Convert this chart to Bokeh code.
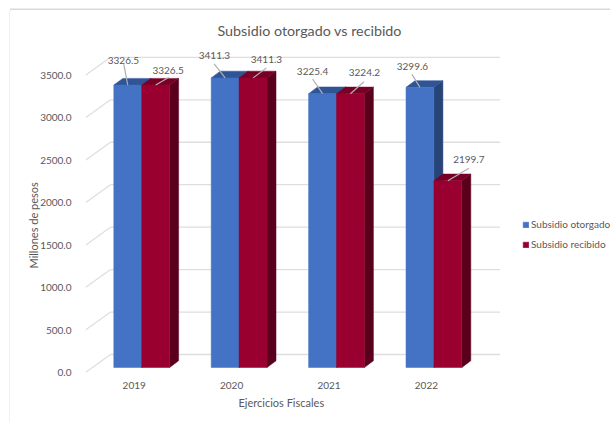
from bokeh.embed import file_html
from bokeh.resources import INLINE
from bokeh.plotting import figure
from bokeh.models import (FixedTicker, Legend, LegendItem, NumeralTickFormatter,
                          Range1d, Title)

years = ["2019", "2020", "2021", "2022"]
otorgado = [3326.5, 3411.3, 3225.4, 3299.6]
recibido = [3326.5, 3411.3, 3224.2, 2199.7]
y_ticks = [0, 500, 1000, 1500, 2000, 2500, 3000, 3500]

# label and leader placement relative to the top of each bar's front face, in pixels
lab_o = [(-4.3, 25), (-10.7, 22), (-10, 22), (-7.5, 20.6)]
lab_r = [(12.5, 14.5), (13.4, 18), (14, 21), (21, 21.5)]
lead_o = [(-4, 21), (-11, 14), (-10, 14.7), (-8, 13)]
lead_r = [(13, 7.5), (13.4, 10), (13.5, 12), (21, 12.5)]

PX_X = 97.4      # pixels per category
PX_Y = 0.0849    # pixels per unit of value
BAR_W = 27.9 / PX_X
GROUP_OFF = 28.3 / PX_X
BASE = 5 / PX_Y
DX, DY = 9 / PX_X, 6.7 / PX_Y
WALL_DX, WALL_DY = 25 / PX_X, 18 / PX_Y
TEXT = "#595959"
GRID = "#dedede"
FONT = "Lato"

p = figure(width=600, height=412, output_backend="svg", toolbar_location=None,
           x_range=Range1d(0, 420 / PX_X), y_range=Range1d(0, 327 / PX_Y),
           frame_width=420, frame_height=327,
           min_border_left=75, min_border_top=35, min_border_bottom=50, min_border_right=105)
p.margin = (10, 0, 0, 10)
p.styles = {"box-shadow": "0 -1.5px 0 #d9d9d9, -1px 0 0 #f0f0f0"}
p.outline_line_color = None
p.xgrid.visible = False
p.ygrid.visible = False

# wall gridlines and slanted tick connectors
n = len(years)
p.segment(x0=[WALL_DX] * len(y_ticks), x1=[n + WALL_DX] * len(y_ticks),
          y0=[t + WALL_DY for t in y_ticks], y1=[t + WALL_DY for t in y_ticks],
          line_color=GRID, line_width=1.3)
p.segment(x0=[0] * len(y_ticks), x1=[WALL_DX] * len(y_ticks),
          y0=y_ticks, y1=[t + WALL_DY for t in y_ticks], line_color=GRID, line_width=1.2)

def bars(values, start, front, top, side):
    lefts = [i + start for i in range(len(values))]
    rights = [l + BAR_W for l in lefts]
    tops = [v + BASE for v in values]
    p.patches(xs=[[r, r + DX, r + DX, r] for r in rights],
              ys=[[BASE, BASE + DY, t + DY, t] for t in tops],
              fill_color=side, line_color=side, line_width=0.5)
    p.patches(xs=[[l, l + DX, r + DX, r] for l, r in zip(lefts, rights)],
              ys=[[t, t + DY, t + DY, t] for t in tops],
              fill_color=top, line_color=top, line_width=0.5)
    return p.quad(left=lefts, right=rights, bottom=[BASE] * len(values), top=tops,
                  fill_color=front, line_color=front, line_width=0.5)

r_o = bars(otorgado, GROUP_OFF, "#4472C4", "#2F5597", "#264478")
r_r = bars(recibido, GROUP_OFF + BAR_W, "#990030", "#780026", "#5A001C")

def labels(values, start, lab, lead):
    cx = [i + start + BAR_W / 2 for i in range(len(values))]
    ty = [v + BASE for v in values]
    p.segment(x0=[c + d[0] / PX_X for c, d in zip(cx, lead)],
              y0=[t + d[1] / PX_Y for t, d in zip(ty, lead)],
              x1=cx, y1=ty, line_color="#b0b0b0", line_width=1.2)
    p.text(x=[c + d[0] / PX_X for c, d in zip(cx, lab)],
           y=[t + d[1] / PX_Y for t, d in zip(ty, lab)],
           text=[f"{v:.1f}" for v in values], text_align="center", text_baseline="middle",
           text_color=TEXT, text_font={"value": FONT}, text_font_size="10px")

labels(otorgado, GROUP_OFF, lab_o, lead_o)
labels(recibido, GROUP_OFF + BAR_W, lab_r, lead_r)

# axes
xa = p.xaxis[0]
xa.ticker = FixedTicker(ticks=[i + 0.5 for i in range(n)])
xa.major_label_overrides = {i + 0.5: y for i, y in enumerate(years)}
ya = p.yaxis[0]
ya.ticker = FixedTicker(ticks=y_ticks)
ya.formatter = NumeralTickFormatter(format="0.0")
ya.major_label_standoff = 8
for a in (xa, ya):
    a.axis_line_color = None
    a.major_tick_line_color = None
    a.minor_tick_line_color = None
    a.major_label_text_color = TEXT
    a.major_label_text_font = FONT
    a.major_label_text_font_size = "10px"
xa.major_label_standoff = 3

p.add_layout(Title(text="Millones de pesos", align="left", offset=104, standoff=-4,
                   text_color=TEXT, text_font=FONT, text_font_size="11px",
                   text_font_style="normal"), "left")
p.add_layout(Title(text="Ejercicios Fiscales", align="left", offset=153, standoff=5,
                   text_color=TEXT, text_font=FONT, text_font_size="11px",
                   text_font_style="normal"), "below")

p.title.text = "Subsidio otorgado vs recibido"
p.title.align = "left"
p.title.offset = 132
p.title.standoff = 13
p.title.text_color = TEXT
p.title.text_font = FONT
p.title.text_font_size = "14.3px"
p.title.text_font_style = "normal"

legend = Legend(items=[LegendItem(label="Subsidio otorgado", renderers=[r_o]),
                       LegendItem(label="Subsidio recibido", renderers=[r_r])],
                location=(17, 120), border_line_color=None, background_fill_alpha=0,
                glyph_width=7, glyph_height=7, label_standoff=2, padding=0, margin=0,
                spacing=4, label_text_color=TEXT, label_text_font=FONT,
                label_text_font_size="10px", label_height=16)
p.add_layout(legend, "right")

open("out.html", "w").write(file_html(p, INLINE))
